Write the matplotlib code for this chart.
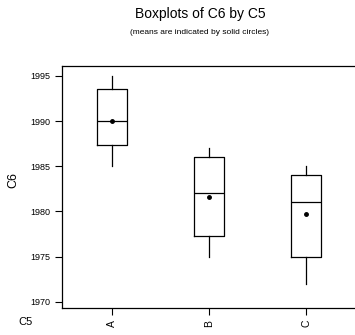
import matplotlib
matplotlib.use("Agg")
import matplotlib.pyplot as plt

# group labels and box statistics
groups = ["A", "B", "C"]
whislo = [1985.0, 1975.0, 1972.0]
q1 = [1987.3, 1977.3, 1975.0]
medians = [1990.0, 1982.0, 1981.0]
q3 = [1993.5, 1986.0, 1984.0]
whishi = [1995.0, 1987.0, 1985.0]
means = [1990.0, 1981.6, 1979.7]
yticks = [1970, 1975, 1980, 1985, 1990, 1995]

plt.rcParams['font.family'] = ['Liberation Sans Narrow', 'Liberation Sans', 'DejaVu Sans']

fig = plt.figure(figsize=(3.55, 3.35), dpi=100)
ax = fig.add_axes([0.1746, 0.0806, 0.83, 0.7224])

stats = []
for i, g in enumerate(groups):
    stats.append(dict(label=g, whislo=whislo[i], q1=q1[i], med=medians[i],
                      q3=q3[i], whishi=whishi[i], mean=means[i], fliers=[]))

lw = 0.9
ax.bxp(stats, positions=[1, 2, 3], widths=0.31, showmeans=True, showcaps=False,
       boxprops=dict(color="black", linewidth=lw),
       medianprops=dict(color="black", linewidth=lw),
       whiskerprops=dict(color="black", linewidth=lw),
       meanprops=dict(marker="o", markersize=2.5, markerfacecolor="black",
                      markeredgecolor="black"))

ax.set_xlim(0.48, 3.52)
ax.set_ylim(1969.3, 1996.1)
ax.set_yticks(yticks)
ax.set_yticklabels([str(t) for t in yticks], fontsize=6.5)
ax.set_xticks([1, 2, 3])
ax.set_xticklabels(groups, rotation=90, fontsize=7.5)
ax.tick_params(direction="out", length=5, width=0.8, colors="black")
ax.spines["right"].set_visible(False)
for s in ["left", "top", "bottom"]:
    ax.spines[s].set_linewidth(0.9)

ax.set_ylabel("C6", fontsize=9)
ax.yaxis.set_label_coords(-0.143, 0.53)
fig.text(18 / 355, 1 - 322 / 335, "C5", fontsize=8, ha="left", va="center")

fig.text(200 / 355, 1 - 14 / 335, "Boxplots of C6 by C5", fontsize=10,
         ha="center", va="center")
fig.text(200 / 355, 1 - 33 / 335, "(means are indicated by solid circles)",
         fontsize=6, ha="center", va="center")

fig.savefig("out.png", dpi=100)
